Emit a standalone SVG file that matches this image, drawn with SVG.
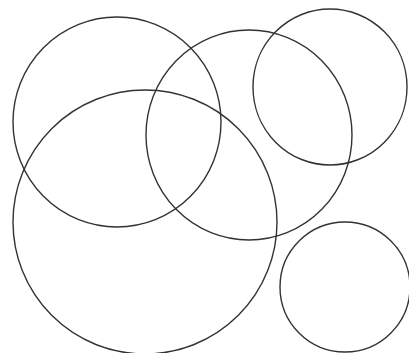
<svg xmlns="http://www.w3.org/2000/svg" width="409" height="353" viewBox="0 0 409 353">
<style>.c{fill:none;stroke:#333;stroke-width:1.4}</style>
<rect width="409" height="353" fill="#fff"/>
<g id="circles">
<g id="c1"><ellipse class="c" cx="117" cy="122" rx="104" ry="105"/></g>
<g id="c2"><ellipse class="c" cx="145" cy="222" rx="132" ry="132"/></g>
<g id="c3"><ellipse class="c" cx="249" cy="135" rx="103" ry="105"/></g>
<g id="c4"><ellipse class="c" cx="330" cy="87" rx="77" ry="78"/></g>
<g id="c5"><ellipse class="c" cx="345" cy="287" rx="65" ry="65"/></g>
</g>
</svg>
